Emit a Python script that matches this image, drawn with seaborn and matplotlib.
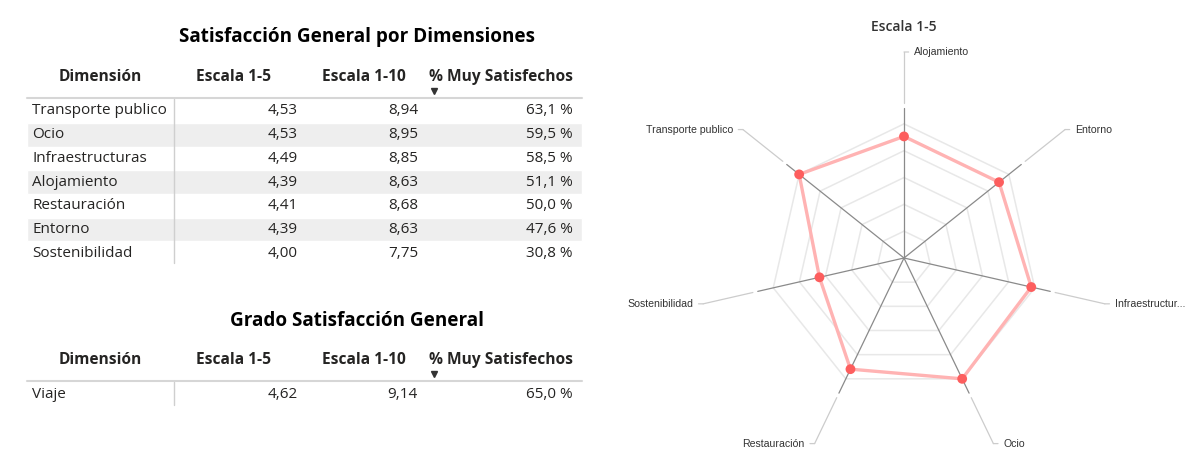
import numpy as np
import pandas as pd
import matplotlib
matplotlib.use("Agg")
import matplotlib.pyplot as plt
import seaborn as sns

# ---- data ----
dimensiones = ["Transporte publico", "Ocio", "Infraestructuras", "Alojamiento",
               "Restauración", "Entorno", "Sostenibilidad"]
escala_5 = [4.53, 4.53, 4.49, 4.39, 4.41, 4.39, 4.00]
escala_10 = [8.94, 8.95, 8.85, 8.63, 8.68, 8.63, 7.75]
muy_satisfechos = [63.1, 59.5, 58.5, 51.1, 50.0, 47.6, 30.8]

general_dim = ["Viaje"]
general_5 = [4.62]
general_10 = [9.14]
general_pct = [65.0]

headers = ["Dimensión", "Escala 1-5", "Escala 1-10", "% Muy Satisfechos"]

# radar: alphabetical order, clockwise from top
radar_dims = ["Alojamiento", "Entorno", "Infraestructuras", "Ocio",
              "Restauración", "Sostenibilidad", "Transporte publico"]
radar_labels = ["Alojamiento", "Entorno", "Infraestructur...", "Ocio",
                "Restauración", "Sostenibilidad", "Transporte publico"]
r_min, r_max = 3.03, 4.53

sns.set_theme(style="white")
plt.rcParams['font.family'] = ['Open Sans', 'DejaVu Sans']

fig = plt.figure(figsize=(12, 4.71), dpi=100)

TXT = "#252423"


def fmt(v, dec=2):
    return f"{v:.{dec}f}".replace(".", ",")


# ---- tables ----
ax = fig.add_axes([0, 0, 0.5, 1])
ax.set_xlim(0, 600)
ax.set_ylim(471, 0)
ax.axis("off")

col_centers = [100, 234, 364, 501]
num_right = [298, 418, 573]


def draw_table(title, title_y, header_y, line_y, first_row_y, row_h, df):
    ax.text(357, title_y, title, ha="center", va="center", fontsize=13.6,
            fontweight="bold", color="black")
    for h, cx in zip(headers, col_centers):
        ax.text(cx, header_y, h, ha="center", va="center", fontsize=11.2,
                fontweight="bold", color=TXT)
    ax.plot([434], [header_y + 14], marker="v", markersize=4.5, color="#333333")
    ax.plot([27, 582], [line_y, line_y], color="#d6d6d6", lw=1.5)
    n = len(df)
    ys = first_row_y + np.arange(n) * row_h
    for i, y in enumerate(ys):
        if i % 2 == 1:
            ax.barh(y, 555, left=27, height=row_h, color="#eeeeee", zorder=0)
    ax.plot([174, 174], [line_y + 1, ys[-1] + row_h / 2 - 2], color="#cfcfcf", lw=1)
    for y, (_, row) in zip(ys, df.iterrows()):
        ax.text(32, y, row["dim"], ha="left", va="center", fontsize=11, color=TXT)
        ax.text(num_right[0], y, fmt(row["e5"]), ha="right", va="center",
                fontsize=11, color=TXT)
        ax.text(num_right[1], y, fmt(row["e10"]), ha="right", va="center",
                fontsize=11, color=TXT)
        ax.text(num_right[2], y, fmt(row["pct"], 1) + " %", ha="right", va="center",
                fontsize=11, color=TXT)


df1 = pd.DataFrame({"dim": dimensiones, "e5": escala_5, "e10": escala_10,
                    "pct": muy_satisfechos})
df2 = pd.DataFrame({"dim": general_dim, "e5": general_5, "e10": general_10,
                    "pct": general_pct})

draw_table("Satisfacción General por Dimensiones", 37, 77, 98, 111, 23.67, df1)
draw_table("Grado Satisfacción General", 321, 360, 381, 395, 23.67, df2)

# ---- radar ----
lookup = dict(zip(dimensiones, escala_5))
radar_vals = [lookup[d] for d in radar_dims]
n = len(radar_dims)
theta = np.linspace(0, 2 * np.pi, n, endpoint=False)
theta_c = np.append(theta, 2 * np.pi)
vals_c = radar_vals + radar_vals[:1]

px_per_unit = 89.4
r_top = 5.4
rad_px = (r_top - r_min) * px_per_unit
cx, cy = 904, 258
rax = fig.add_axes([(cx - rad_px) / 1200, (471 - cy - rad_px) / 471,
                    2 * rad_px / 1200, 2 * rad_px / 471], projection="polar")
rax.set_theta_zero_location("N")
rax.set_theta_direction(-1)
rax.set_ylim(r_min, r_top)
rax.grid(False)
rax.set_xticks([])
rax.set_yticks([])
rax.spines["polar"].set_visible(False)
rax.patch.set_alpha(0)

# heptagon rings
for ring in np.linspace(r_min, r_max, 6)[1:]:
    rax.plot(theta_c, [ring] * (n + 1), color="#e8e8e8", lw=1.1, zorder=1)

spoke_end = r_min + 150 / px_per_unit
lead_start = r_min + 155 / px_per_unit
lead_end = r_min + 206 / px_per_unit
for t, lab in zip(theta, radar_labels):
    rax.plot([t, t], [r_min, spoke_end], color="#8a8a8a", lw=0.9, zorder=2)
    rax.plot([t, t], [lead_start, lead_end], color="#cccccc", lw=0.9, zorder=2)
    right = np.sin(t) >= -1e-9
    rax.annotate(lab, xy=(t, lead_end), xytext=(10 if right else -10, 0),
                 textcoords="offset pixels", ha="left" if right else "right",
                 va="center", fontsize=7.6, color="#333333",
                 family=["Liberation Sans", "DejaVu Sans"],
                 arrowprops=dict(arrowstyle="-", color="#cccccc", lw=0.9,
                                 shrinkA=1.5, shrinkB=0),
                 annotation_clip=False)

sns.lineplot(x=theta_c, y=vals_c, ax=rax, sort=False, estimator=None,
             color="#ffb3b3", lw=2.4, zorder=3)
sns.scatterplot(x=theta, y=radar_vals, ax=rax, color="#fd5e5e", s=50,
                edgecolor="none", zorder=4)
rax.set(xlabel="", ylabel="")
rax.set_ylim(r_min, r_top)

fig.text(cx / 1200, 1 - 27 / 471, "Escala 1-5", ha="center", va="center",
         fontsize=10, fontweight="semibold", color="#333333")

fig.savefig("out.png", dpi=100)
